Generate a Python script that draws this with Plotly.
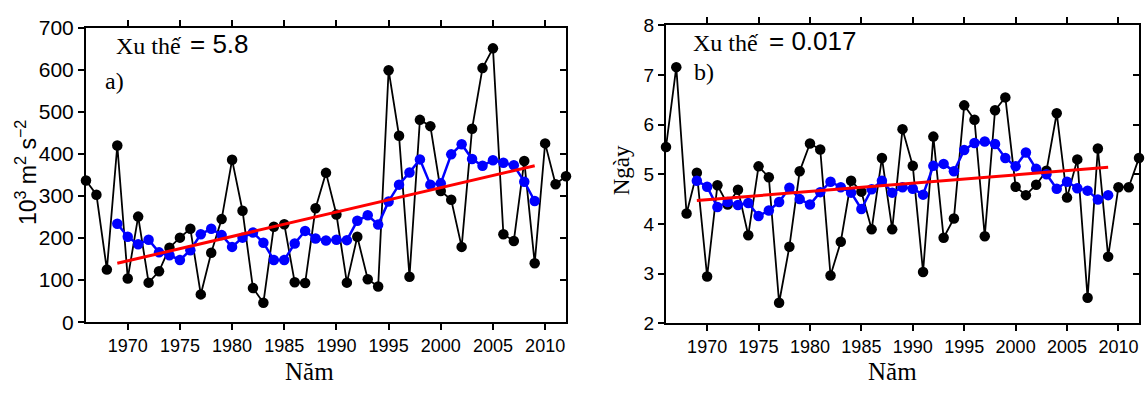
import plotly.graph_objects as go

W, H = 1146, 396

years = list(range(1966, 2013))
smooth_years = list(range(1969, 2010))
trend_years = [1969, 2009]

a_obs = [337, 303, 125, 420, 104, 251, 94, 121, 177, 201,
         222, 66, 165, 245, 386, 265, 81, 46, 227, 233,
         95, 93, 271, 355, 256, 94, 203, 102, 85, 599,
         443, 108, 481, 466, 312, 291, 179, 460, 604, 651,
         209, 193, 383, 140, 425, 328, 347]
a_smooth = [234, 203, 185, 196, 166, 159, 148, 171, 209, 222,
            207, 179, 201, 213, 189, 148, 148, 187, 217, 199,
            194, 196, 195, 241, 254, 232, 287, 327, 356, 387,
            327, 330, 399, 423, 388, 372, 385, 379, 373, 334, 288]
a_trend = [140, 372]

b_obs = [5.55, 7.16, 4.21, 5.03, 2.94, 4.78, 4.39, 4.69, 3.77, 5.16,
         4.94, 2.41, 3.54, 5.06, 5.62, 5.50, 2.96, 3.64, 4.87, 4.65,
         3.89, 5.33, 3.89, 5.91, 5.17, 3.03, 5.76, 3.72, 4.11, 6.39,
         6.10, 3.75, 6.29, 6.55, 4.75, 4.58, 4.79, 5.07, 6.23, 4.53,
         5.30, 2.51, 5.52, 3.34, 4.74, 4.74, 5.33]
b_smooth = [4.87, 4.75, 4.34, 4.44, 4.38, 4.42, 4.16, 4.27, 4.44, 4.73,
            4.50, 4.39, 4.64, 4.85, 4.74, 4.63, 4.30, 4.70, 4.87, 4.63,
            4.74, 4.71, 4.59, 5.17, 5.21, 5.06, 5.49, 5.63, 5.66, 5.61,
            5.33, 5.16, 5.44, 5.11, 5.00, 4.71, 4.85, 4.72, 4.67, 4.49, 4.58]
b_trend = [4.47, 5.14]

x_ticks = [1970, 1975, 1980, 1985, 1990, 1995, 2000, 2005, 2010]
a_yticks = [0, 100, 200, 300, 400, 500, 600, 700]
b_yticks = [2, 3, 4, 5, 6, 7, 8]

SANS = "Liberation Sans, Arial, sans-serif"
SERIF = "Liberation Serif, Times New Roman, serif"

fig = go.Figure()

def add_panel(xa, ya, obs, smooth, trend):
    fig.add_trace(go.Scatter(x=years, y=obs, mode="lines+markers",
                             line=dict(color="black", width=1.8),
                             marker=dict(color="black", size=10.5),
                             xaxis=xa, yaxis=ya, cliponaxis=False, showlegend=False))
    fig.add_trace(go.Scatter(x=smooth_years, y=smooth, mode="lines+markers",
                             line=dict(color="#0000ff", width=2.5),
                             marker=dict(color="#0000ff", size=10.5),
                             xaxis=xa, yaxis=ya, cliponaxis=False, showlegend=False))
    fig.add_trace(go.Scatter(x=trend_years, y=trend, mode="lines",
                             line=dict(color="#ff0000", width=3),
                             xaxis=xa, yaxis=ya, cliponaxis=False, showlegend=False))

add_panel("x", "y", a_obs, a_smooth, a_trend)
add_panel("x2", "y2", b_obs, b_smooth, b_trend)
# carriers for the inside right-hand tick axes
fig.add_trace(go.Scatter(x=[None], y=[None], xaxis="x", yaxis="y3", showlegend=False, hoverinfo="skip"))
fig.add_trace(go.Scatter(x=[None], y=[None], xaxis="x2", yaxis="y4", showlegend=False, hoverinfo="skip"))

def px_x(p):
    return p / W

def px_y(p):
    return 1 - p / H

axis_common = dict(showgrid=False, zeroline=False, showline=True, linecolor="black",
                   linewidth=2, ticks="outside", ticklen=6, tickwidth=1.5, tickcolor="black")

xa_dom = [px_x(86), px_x(566)]
ya_dom = [px_y(329.3), px_y(16.7)]
xb_dom = [px_x(666), px_x(1139)]
yb_dom = [px_y(330.3), px_y(14.3)]

fig.update_layout(
    width=W, height=H, margin=dict(l=0, r=0, t=0, b=0),
    paper_bgcolor="white", plot_bgcolor="white",
    xaxis=dict(domain=xa_dom, anchor="y", range=[1966, 2012], tickvals=x_ticks,
               mirror="ticks", tickfont=dict(family=SANS, size=18, color="black"), **axis_common),
    yaxis=dict(domain=ya_dom, anchor="x", range=[0, 700], tickvals=a_yticks,
               mirror=True, tickfont=dict(family=SANS, size=21, color="black"), **axis_common),
    yaxis3=dict(overlaying="y", anchor="x", side="right", range=[0, 700], tickvals=a_yticks,
                showticklabels=False, showgrid=False, zeroline=False, showline=False,
                ticks="inside", ticklen=6, tickwidth=1.5, tickcolor="black"),
    xaxis2=dict(domain=xb_dom, anchor="y2", range=[1966, 2012], tickvals=x_ticks,
                mirror="ticks", tickfont=dict(family=SANS, size=18, color="black"), **axis_common),
    yaxis2=dict(domain=yb_dom, anchor="x2", range=[2, 8], tickvals=b_yticks,
                mirror=True, tickfont=dict(family=SANS, size=19, color="black"), **axis_common),
    yaxis4=dict(overlaying="y2", anchor="x2", side="right", range=[2, 8], tickvals=b_yticks,
                showticklabels=False, showgrid=False, zeroline=False, showline=False,
                ticks="inside", ticklen=6, tickwidth=1.5, tickcolor="black"),
)

def ann(text, x, y, family, size, xanchor="center", angle=0):
    fig.add_annotation(text=text, xref="paper", yref="paper", x=px_x(x), y=px_y(y),
                       xanchor=xanchor, yanchor="middle", showarrow=False, textangle=angle,
                       font=dict(family=family, size=size, color="black"))

# panel a texts
ann("Xu thế", 114, 36, SERIF, 24, "left")
ann("= 5.8", 188, 34, SANS, 26, "left")
ann("a)", 103, 73, SERIF, 24, "left")
ann("10<sup>3</sup> m<sup>2</sup> s<sup>−2</sup>", 26, 171, SANS, 23, angle=-90)
ann("Năm", 309, 382, SERIF, 25)
# panel b texts
ann("Xu thế", 691, 33, SERIF, 24, "left")
ann("= 0.017", 767, 31, SANS, 26, "left")
ann("b)", 692, 64, SERIF, 24, "left")
ann("Ngày", 621, 168, SERIF, 23, angle=-90)
ann("Năm", 892, 382, SERIF, 25)

fig.write_html("out.html")
